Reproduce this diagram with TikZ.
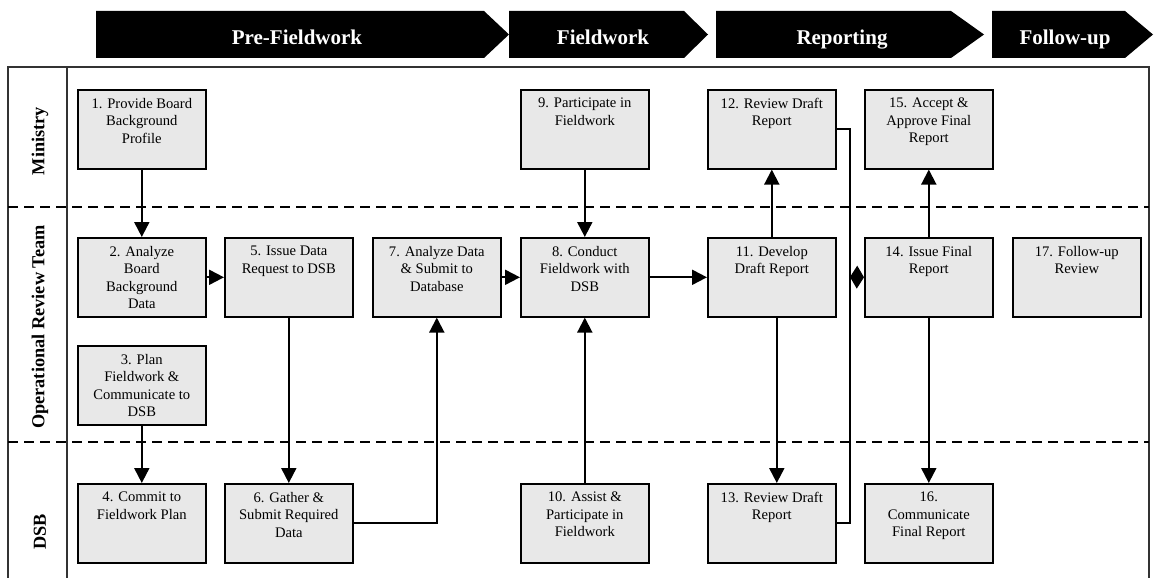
\documentclass[tikz,border=0pt]{standalone}
\usepackage{fontspec}
\setmainfont{Liberation Serif}
\usetikzlibrary{arrows.meta}
\definecolor{boxgray}{RGB}{232,232,232}
\newcommand{\procbox}[4]{%
  \node[procbox] (#1) at (#2,#3) {};
  \node[proctext] (#1t) at ([yshift=-9pt]#1.north) {#4};
}
\begin{document}
\begin{tikzpicture}[x=1pt,y=-1pt,
  procbox/.style={draw, fill=boxgray, line width=1.6pt, minimum width=128pt, minimum height=79pt, anchor=north west, inner sep=0pt},
  proctext/.style={anchor=north, align=center, inner sep=0pt, font=\fontsize{14.6}{17.5}\selectfont},
  conn/.style={line width=2pt, -{Triangle[length=15pt,width=15pt]}},
  plain/.style={line width=2pt},
  chev/.style={fill=black},
  chevtext/.style={text=white, font=\fontsize{21}{25}\selectfont\bfseries, anchor=base},
  lanetext/.style={rotate=90, font=\fontsize{18.3}{22}\selectfont\bfseries},
  frame/.style={line width=1.6pt, draw=black!80},
  lanesep/.style={line width=1.6pt, dash pattern=on 10pt off 6pt}
]
\useasboundingbox (0,0) rectangle (1154,578);

% phase chevrons
\fill[chev] (96,11) -- (484,11) -- (509,34.5) -- (484,58) -- (96,58) -- cycle;
\fill[chev] (509,11) -- (684,11) -- (708,34.5) -- (684,58) -- (509,58) -- cycle;
\fill[chev] (716,11) -- (951,11) -- (984,34.5) -- (951,58) -- (716,58) -- cycle;
\fill[chev] (992,11) -- (1125,11) -- (1153,34.5) -- (1125,58) -- (992,58) -- cycle;
\node[chevtext] (ph1) at (297,45) {Pre-Fieldwork};
\node[chevtext] (ph2) at (603,45) {Fieldwork};
\node[chevtext] (ph3) at (842,45) {Reporting};
\node[chevtext] (ph4) at (1065,45) {Follow-up};

% frame
\draw[frame] (8,578) -- (8,67) -- (1149,67) -- (1149,578);
\draw[frame] (67,67) -- (67,578);
\draw[lanesep] (8,206.7) -- (1149,206.7);
\draw[lanesep] (8,441.7) -- (1149,441.7);

% lane labels
\node[lanetext] (l1) at (40,141) {Ministry};
\node[lanetext] (l2) at (40,327) {Operational Review Team};
\node[lanetext] (l3) at (40,532) {DSB};

% process boxes
\procbox{b1}{77}{89}{1. Provide Board\\Background\\Profile}
\procbox{b2}{77}{237}{2. Analyze\\Board\\Background\\Data}
\procbox{b3}{77}{345}{3. Plan\\Fieldwork \&\\Communicate to\\DSB}
\procbox{b4}{77}{483}{4. Commit to\\Fieldwork Plan}
\procbox{b5}{224}{237}{5. Issue Data\\Request to DSB}
\procbox{b6}{224}{483}{6. Gather \&\\Submit Required\\Data}
\procbox{b7}{372}{237}{7. Analyze Data\\\& Submit to\\Database}
\procbox{b8}{520}{237}{8. Conduct\\Fieldwork with\\DSB}
\procbox{b9}{520}{89}{9. Participate in\\Fieldwork}
\procbox{b10}{520}{483}{10. Assist \&\\Participate in\\Fieldwork}
\procbox{b11}{707}{237}{11. Develop\\Draft Report}
\procbox{b12}{707}{89}{12. Review Draft\\Report}
\procbox{b13}{707}{483}{13. Review Draft\\Report}
\procbox{b14}{864}{237}{14. Issue Final\\Report}
\procbox{b15}{864}{89}{15. Accept \&\\Approve Final\\Report}
\procbox{b16}{864}{483}{16.\\Communicate\\Final Report}
\procbox{b17}{1012}{237}{17. Follow-up\\Review}

% connectors
\draw[conn] (b1.south) -- (b2.north);
\draw[conn] (b2.east) -- (b5.west);
\draw[conn] (b5.south) -- (b6.north);
\draw[conn] (b3.south) -- (b4.north);
\draw[conn] (b6.east) -| (b7.south);
\draw[conn] (b7.east) -- (b8.west);
\draw[conn] (b9.south) -- (b8.north);
\draw[conn] (b10.north) -- (b8.south);
\draw[conn] (b8.east) -- (b11.west);
\draw[conn] (b11.north) -- (b12.south);
\draw[conn] ([xshift=5pt]b11.south) -- ([xshift=5pt]b13.north);
\draw[conn] (b14.north) -- (b15.south);
\draw[conn] (b14.south) -- (b16.north);

\coordinate (j) at (850,277);
\draw[plain] (b12.east) -| (j);
\draw[plain] (b13.east) -| (j);
\draw[line width=2pt, -{Kite[length=14pt,width=23pt,inset=7pt]}] (j) -- (b14.west);
\end{tikzpicture}
\end{document}
